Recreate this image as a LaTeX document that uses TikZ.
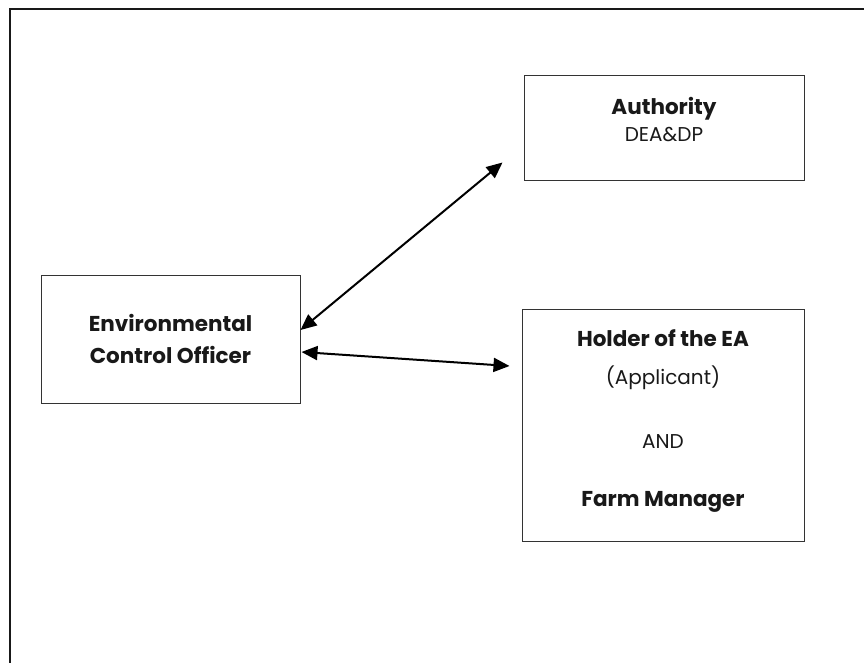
\documentclass[tikz,border=0pt]{standalone}
\usepackage{fontspec}
\setmainfont{Poppins}
\usetikzlibrary{arrows.meta}
\begin{document}
\begin{tikzpicture}[x=1pt,y=-1pt,
  box/.style={draw=black!80,line width=1pt,inner sep=0pt},
  lbl/.style={inner sep=0pt,font=\fontsize{20}{24}\selectfont,text=black!90},
  blbl/.style={inner sep=0pt,font=\fontsize{21.5}{26}\selectfont\bfseries,text=black!90},
  link/.style={line width=2pt,{Triangle[length=16pt,width=14pt]}-{Triangle[length=16pt,width=14pt]}}]
\useasboundingbox (0,0) rectangle (864,663);
\draw[line width=2pt,black!90] (10,663) -- (10,9) -- (864,9);
\node[box,minimum width=280pt,minimum height=105pt] (auth) at (664,128.5) {};
\node[box,minimum width=282pt,minimum height=232pt] (hold) at (663,425) {};
\node[box,minimum width=259pt,minimum height=128pt] (eco) at (170.5,339) {};
\node[blbl] (a1) at (664,109) {Authority};
\node[lbl] (a2) at (664,135) {DEA\&DP};
\node[blbl] (e1) at (170.5,323) {Environmental};
\node[blbl] (e2) at (170.5,355) {Control Officer};
\node[blbl] (h1) at (663,338) {Holder of the EA};
\node[lbl] (h2) at (663,378) {(Applicant)};
\node[lbl] (h3) at (663,442) {AND};
\node[blbl] (h4) at (663,502) {Farm Manager};
\coordinate (d1) at ([yshift=9pt]eco.east);
\coordinate (d2) at ([xshift=-21pt,yshift=19pt]auth.south west);
\coordinate (k1) at ([xshift=1pt,yshift=-13pt]eco.east);
\coordinate (k2) at ([xshift=-12pt,yshift=59pt]hold.west);
\draw[link] (d1) -- (d2);
\draw[link] (k1) -- (k2);
\end{tikzpicture}
\end{document}
